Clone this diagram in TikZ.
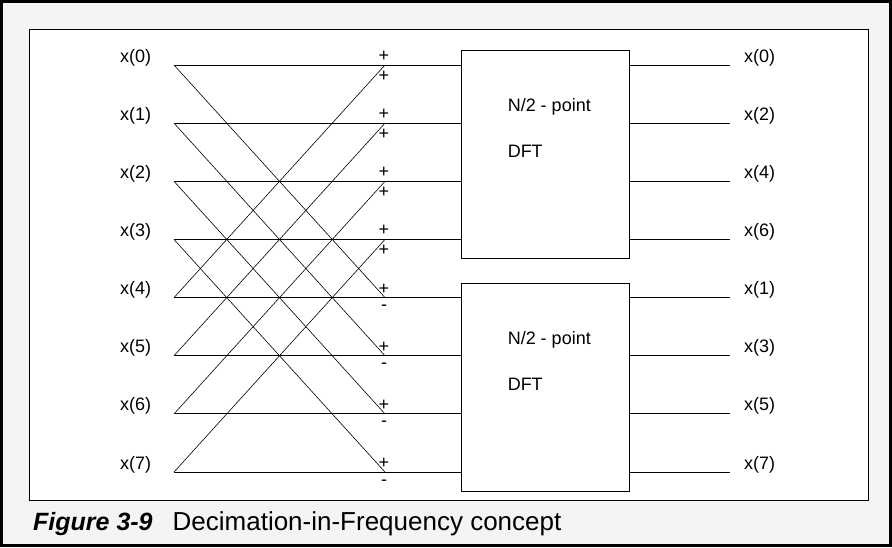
\documentclass[tikz,border=0pt]{standalone}
\usepackage{fontspec}
\setmainfont{Liberation Sans}
\usetikzlibrary{positioning}

\definecolor{framegray}{HTML}{F4F4F4}

\begin{document}
\begin{tikzpicture}[
        x=1pt, y=-1pt,
        lbl/.style={font=\fontsize{18}{20}\selectfont, inner sep=0pt},
        sign/.style={font=\fontsize{18}{20}\selectfont, inner sep=0pt, anchor=base, text height=6pt, text depth=0pt},
        dftbox/.style={draw, line width=0.9pt, fill=white, minimum width=168pt, minimum height=208pt, inner sep=0pt},
        wire/.style={line width=1pt},
        cross/.style={line width=0.6pt}
    ]
        % Frame and caption
        \draw[line width=2.6pt, fill=framegray] (1.5,1.5) rectangle (890.5,545.5);
        \draw[line width=0.8pt, fill=white] (29.5,29.5) rectangle (868,500);
        \useasboundingbox (0,0) rectangle (892,547);
        \node[anchor=base west, inner sep=0pt, font=\fontsize{25}{28}\selectfont] (caption) at (33,530)
            {\textbf{\textit{Figure 3-9}}\hspace{20pt}{\fontsize{26}{28}\selectfont Decimation-in-Frequency concept}};

        % DFT blocks
        \node[dftbox] (dftTop) at (545,154) {};
        \node[dftbox] (dftBot) at (545,387) {};
        \node[lbl, anchor=base west] (topPoint) at ([xshift=47pt, yshift=-62pt]dftTop.north west) {N/2 - point};
        \node[lbl, anchor=base west] (topDft) at ([xshift=47pt, yshift=-108pt]dftTop.north west) {DFT};
        \node[lbl, anchor=base west] (botPoint) at ([xshift=47pt, yshift=-62pt]dftBot.north west) {N/2 - point};
        \node[lbl, anchor=base west] (botDft) at ([xshift=47pt, yshift=-108pt]dftBot.north west) {DFT};

        % Inputs, butterfly points and outputs
        \foreach \i/\o in {0/0, 1/2, 2/4, 3/6, 4/1, 5/3, 6/5, 7/7} {
            \pgfmathsetmacro{\yy}{65+58.15*\i}
            \coordinate (in\i) at (174,\yy);
            \coordinate (sum\i) at (385,\yy);
            \coordinate (out\i) at (730,\yy);
            \node[lbl, anchor=base west] (inLabel\i) at (120,\yy-3) {x(\i)};
            \node[lbl, anchor=base west] (outLabel\i) at (744,\yy-3) {x(\o)};
            \node[sign] (plus\i) at (384,\yy-3.5) {+};
        }

        % Wires into the top block
        \foreach \i in {0,...,3} {
            \draw[wire] (in\i) -- (in\i -| dftTop.west);
            \draw[wire] (out\i -| dftTop.east) -- (out\i);
            \node[sign] (lower\i) at (384,65+58.15*\i+16) {+};
        }

        % Wires into the bottom block
        \foreach \i in {4,...,7} {
            \draw[wire] (in\i) -- (in\i -| dftBot.west);
            \draw[wire] (out\i -| dftBot.east) -- (out\i);
            \node[sign] (lower\i) at (384,65+58.15*\i+13) {-};
        }

        % Butterfly crossings
        \foreach \i [evaluate=\i as \j using int(\i+4)] in {0,...,3} {
            \draw[cross] (in\i) -- (sum\j);
            \draw[cross] (in\j) -- (sum\i);
        }

    \end{tikzpicture}
\end{document}
